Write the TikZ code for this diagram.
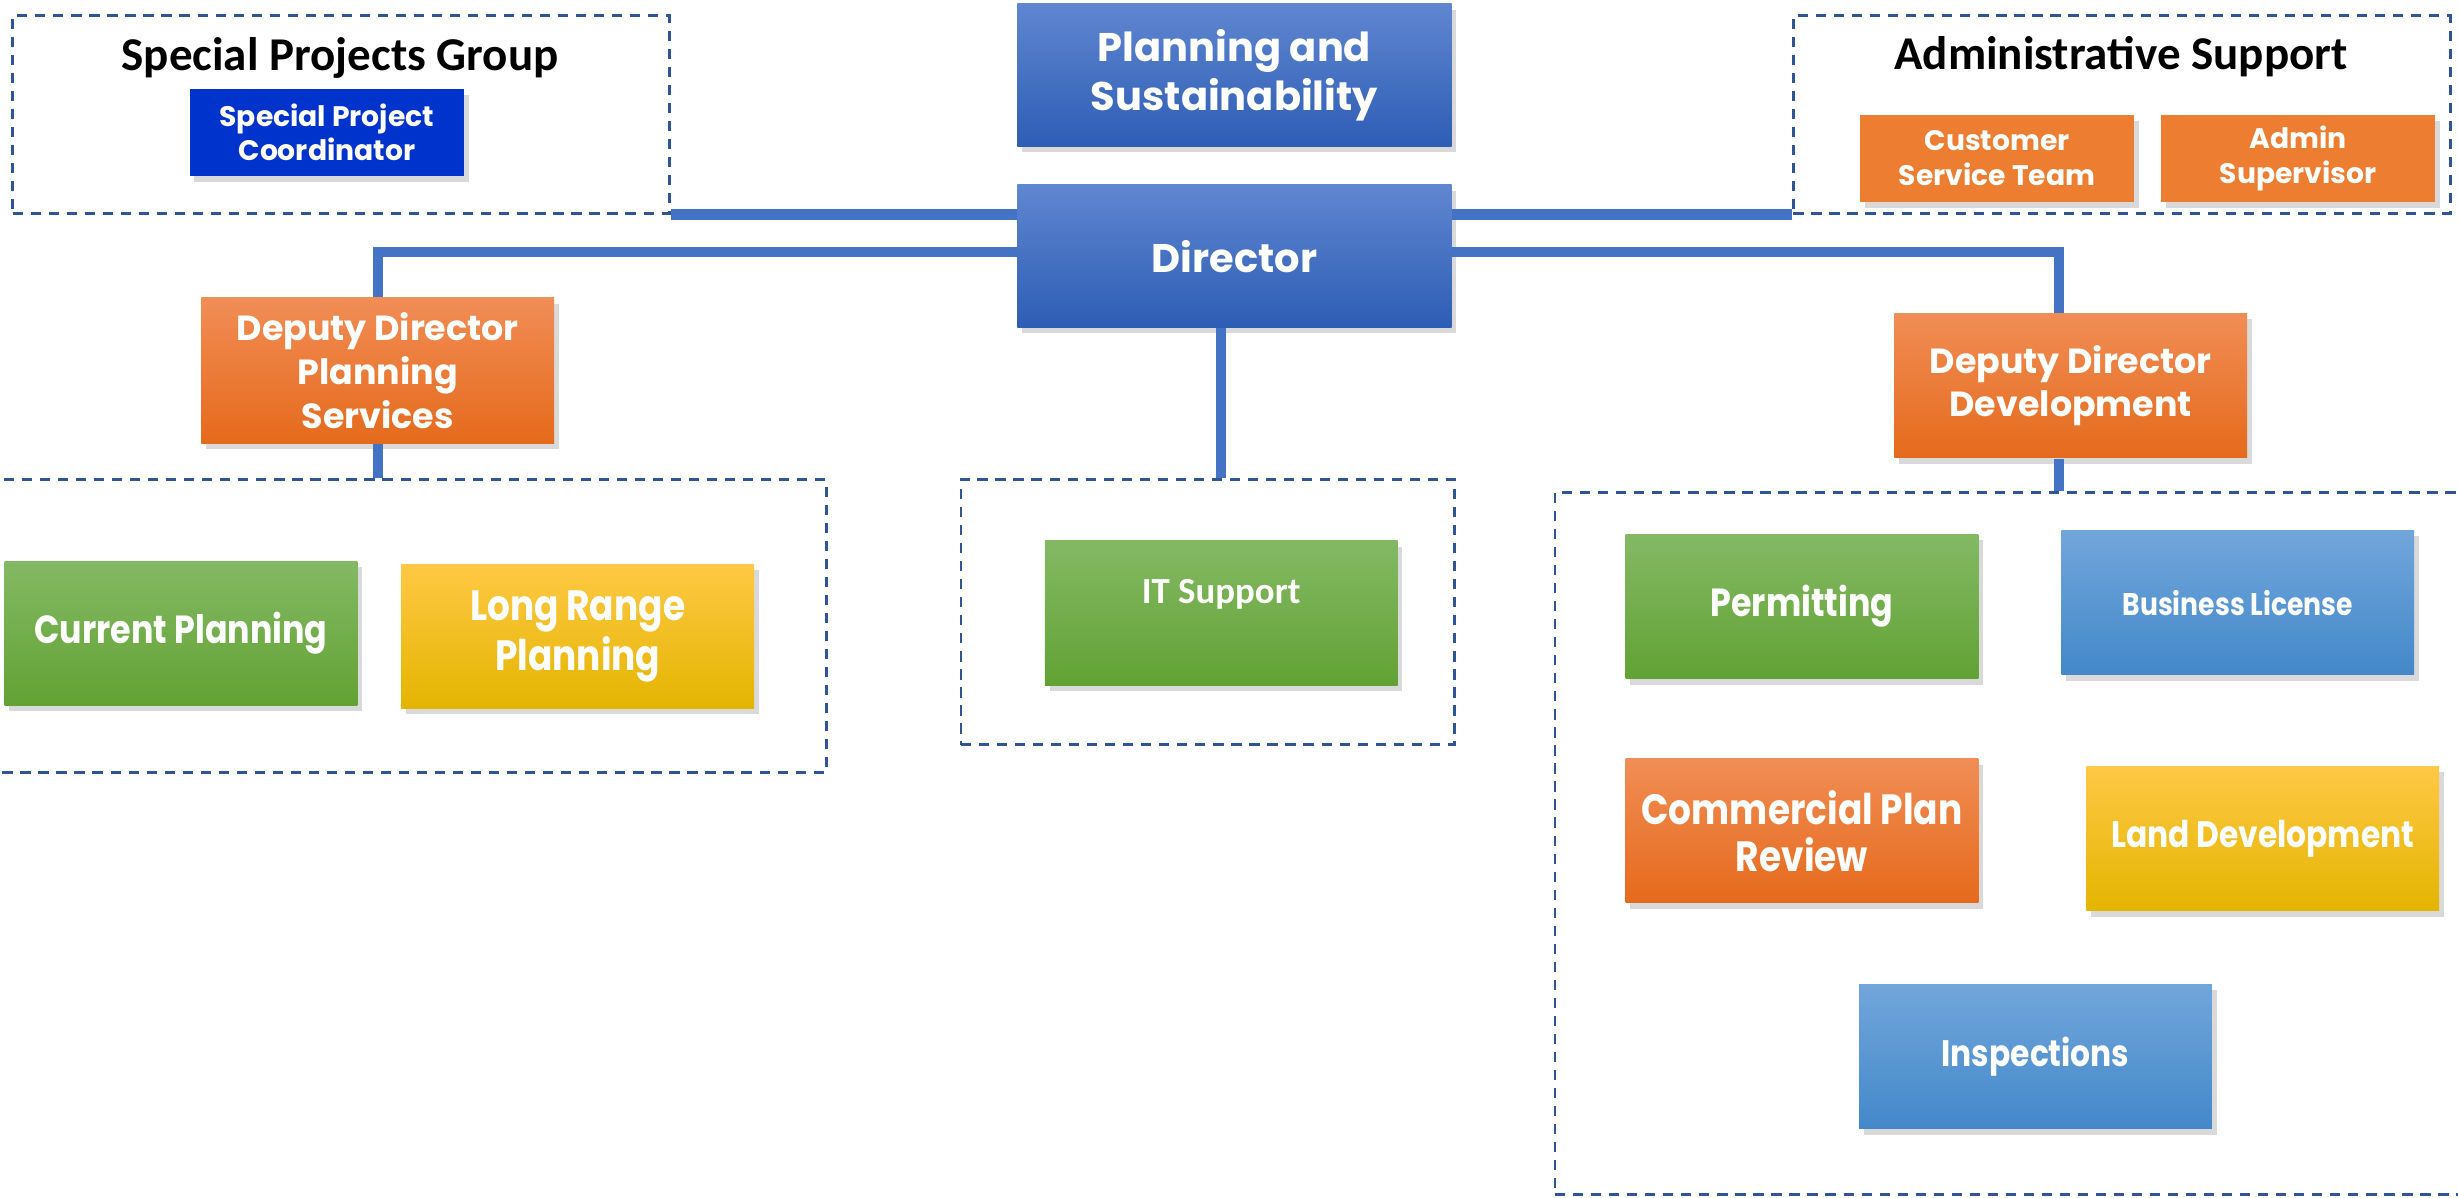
\documentclass[tikz,border=0pt]{standalone}
\usepackage{fontspec}
\setmainfont{Poppins}
\newfontfamily\narrowfont{Poppins}[FakeStretch=0.85]
\newfontfamily\calibrifont{Carlito}
\usetikzlibrary{positioning}
\usetikzlibrary{shadows}

\definecolor{linkblue}{HTML}{4472C4}
\definecolor{dashblue}{HTML}{2F5597}
\definecolor{dirtop}{HTML}{5F86D0}
\definecolor{dirbot}{HTML}{2E5DB5}
\definecolor{orgtop}{HTML}{F18D55}
\definecolor{orgbot}{HTML}{E56A1C}
\definecolor{grntop}{HTML}{84B964}
\definecolor{grnbot}{HTML}{62A234}
\definecolor{yeltop}{HTML}{FFC845}
\definecolor{yelbot}{HTML}{E3B500}
\definecolor{ltbtop}{HTML}{71A6DA}
\definecolor{ltbbot}{HTML}{4388CA}
\definecolor{coordblue}{HTML}{0033CC}
\definecolor{adminorange}{HTML}{ED7D31}

\tikzset{
    unit/.style = {draw = none, text = white, align = center, font = \bfseries,
        minimum width = 90pt, minimum height = 36.8pt, inner sep = 2pt,
        drop shadow = {opacity = 0.3, shadow xshift = 1.2pt, shadow yshift = -1.5pt}},
    dirbox/.style = {unit, top color = dirtop, bottom color = dirbot,
        minimum width = 110.8pt, minimum height = 36.4pt,
        font = \fontsize{10.2}{12.6}\selectfont\bfseries},
    orangebox/.style = {unit, top color = orgtop, bottom color = orgbot},
    greenbox/.style = {unit, top color = grntop, bottom color = grnbot},
    yellowbox/.style = {unit, top color = yeltop, bottom color = yelbot},
    lightbox/.style = {unit, top color = ltbtop, bottom color = ltbbot},
    smallbox/.style = {unit, minimum width = 70pt, minimum height = 22.2pt,
        font = \fontsize{7.2}{8.8}\selectfont\bfseries},
    group/.style = {draw = dashblue, line width = 0.7pt, dash pattern = on 2.6pt off 2pt,
        inner sep = 0pt},
    grouptitle/.style = {font = \calibrifont\fontsize{12}{14}\selectfont\bfseries},
    link/.style = {draw = linkblue, line width = 2.6pt}
}

\begin{document}
\begin{tikzpicture}[x = 0.4pt, y = -0.4pt]
        \useasboundingbox (0,0) rectangle (1568,764);

        % Dashed groups
        \node[group, minimum width = 167.6pt, minimum height = 50.4pt] (spg) at (217.5,73) {};
        \node[group, minimum width = 167.6pt, minimum height = 50.4pt] (adm) at (1353.5,73) {};
        \node[group, minimum width = 214.8pt, minimum height = 74.8pt] (plangrp) at (258.5,399.5) {};
        \node[group, minimum width = 126pt, minimum height = 67.6pt] (itgrp) at (770.5,390.5) {};
        \node[group, minimum width = 239.2pt, minimum height = 179.2pt] (devgrp) at (1291,538) {};

        \node[grouptitle] (spgtitle) at (217,37) {Special Projects Group};
        \node[grouptitle] (admtitle) at (1353,36) {Administrative Support};

        % Top of the chart
        \node[dirbox] (ps) at (787.5,48) {Planning and\\Sustainability};
        \node[dirbox] (dir) at (787.5,163.5) {Director};

        % Staff boxes
        \node[smallbox, fill = coordblue] (spc) at (208.5,84.5) {Special Project\\Coordinator};
        \node[smallbox, fill = adminorange] (cst) at (1274,101) {Customer\\Service Team};
        \node[smallbox, fill = adminorange, right = 6.4pt of cst] (sup) {Admin\\Supervisor};

        % Deputies
        \node[orangebox, minimum height = 37.2pt, font = \fontsize{8.9}{11.2}\selectfont\bfseries]
            (ddps) at (241,236.5) {Deputy Director\\Planning\\Services};
        \node[orangebox, font = \fontsize{8.9}{11.2}\selectfont\bfseries]
            (ddd) at (1321,246) {Deputy Director\\Development};

        % Planning services
        \node[greenbox, font = \narrowfont\fontsize{10}{12}\selectfont\bfseries]
            (cur) at (115.5,404) {Current Planning};
        \node[yellowbox, font = \narrowfont\fontsize{10.8}{11.6}\selectfont\bfseries]
            (lrp) at (368.5,406) {Long Range\\Planning};

        % IT
        \node[greenbox, text depth = 11pt, font = \calibrifont\fontsize{9.4}{11}\selectfont\bfseries]
            (it) at (779,391) {IT Support};

        % Development
        \node[greenbox, font = \narrowfont\fontsize{10}{12}\selectfont\bfseries]
            (perm) at (1149.5,387) {Permitting};
        \node[lightbox, font = \narrowfont\fontsize{8}{10}\selectfont\bfseries]
            (bl) at (1427.5,384.5) {Business License};
        \node[orangebox, font = \narrowfont\fontsize{10.8}{12}\selectfont\bfseries]
            (cpr) at (1149.5,530) {Commercial Plan\\Review};
        \node[yellowbox, font = \narrowfont\fontsize{9.4}{11}\selectfont\bfseries]
            (ld) at (1443.5,535) {Land Development};
        \node[lightbox, font = \narrowfont\fontsize{9.4}{11}\selectfont\bfseries]
            (insp) at (1298.5,674) {Inspections};

        % Connectors
        \draw[link] (spg.south east) -- (spg.south east -| dir.west);
        \draw[link] (adm.south west) -- (adm.south west -| dir.east);
        \draw[link] ([yshift = 1pt]dir.west) -| (ddps.north);
        \draw[link] ([yshift = 1pt]dir.east) -| ([xshift = -3pt]ddd.north);
        \draw[link] (ddps.south) -- (ddps.south |- plangrp.north);
        \draw[link] ([xshift = -3pt]ddd.south) -- ([xshift = -3pt]ddd.south |- devgrp.north);
        \draw[link] (it |- dir.south) -- (it |- itgrp.north);
    \end{tikzpicture}
\end{document}
